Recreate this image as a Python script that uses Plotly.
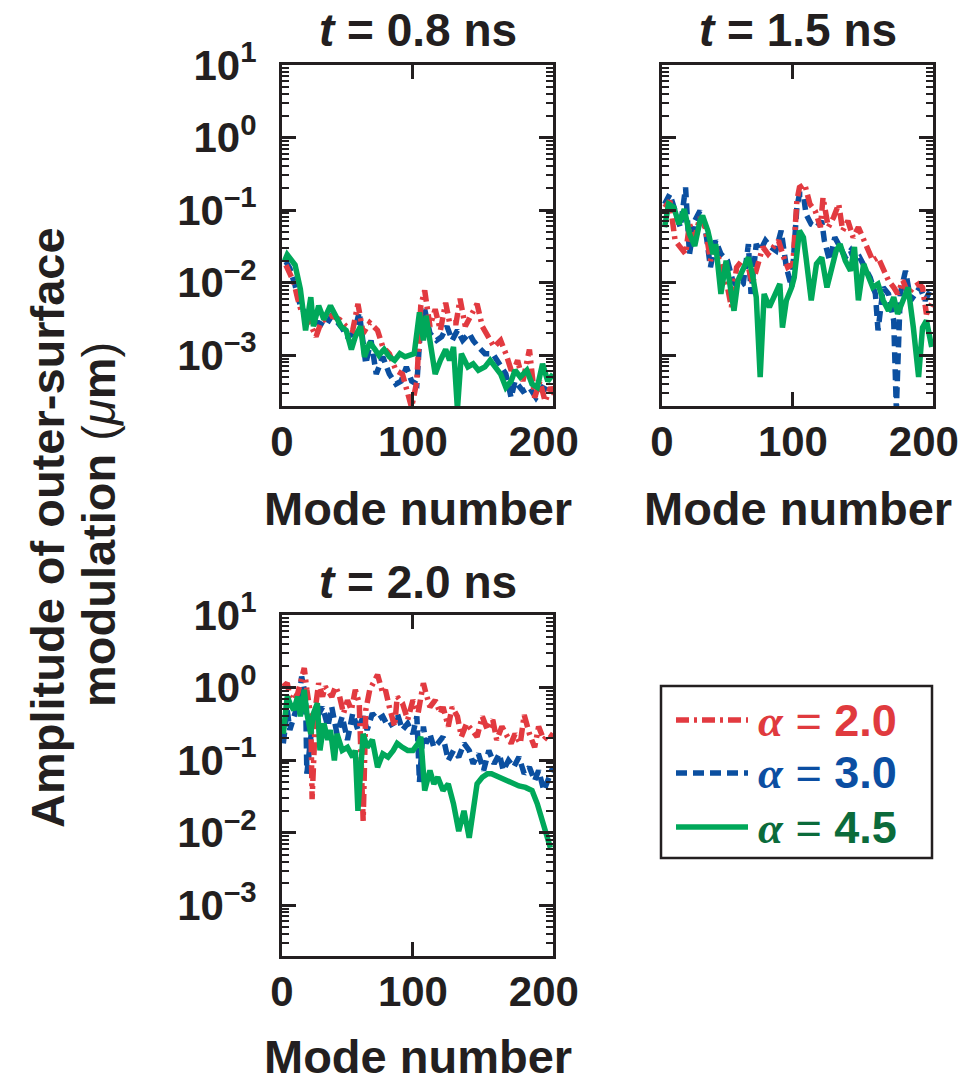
import plotly.graph_objects as go

# ---------------- data (mode number, amplitude in micrometres) ----------------
# t = 0.8 ns
m08_red = [3,5,9,12,15,20,26,30,33,38,44,49,54,58,62,67,73,77,82,87,92,96,99,103,106,
           109,113,117,121,125,128,133,136,140,144,149,153,157,162,167,171,176,180,184,189,
           193,197,201,205,208]
a08_red = [0.0175,0.0141,0.0102,0.0060,0.0039,0.0031,0.0018,0.0029,0.0031,0.0035,
           0.0031,0.0025,0.0022,0.0051,0.0020,0.0028,0.0022,0.0013,0.00105,0.00062,
           0.00055,0.00029,0.00019,0.00044,0.0048,0.0078,0.0025,0.0043,0.0022,0.0053,
           0.0028,0.0028,0.0060,0.0025,0.0035,0.0051,0.0025,0.0018,0.0013,0.0016,
           0.00105,0.00055,0.00085,0.00044,0.0012,0.00026,0.00044,0.00023,0.00036,0.00029]
m08_blue = [3,6,10,14,19,24,28,33,38,45,50,55,59,64,68,72,77,82,87,91,95,99,103,106,109,
            113,118,122,126,130,134,138,143,146,150,155,161,166,171,175,178,184,189,194,199,204]
a08_blue = [0.0195,0.0157,0.0092,0.0048,0.0035,0.0028,0.0028,0.0025,0.0035,0.0025,
            0.0018,0.0020,0.0039,0.00076,0.0016,0.00055,0.00095,0.00055,0.00040,0.00044,
            0.00069,0.00044,0.00040,0.0028,0.0043,0.0020,0.0016,0.0018,0.0025,0.0016,
            0.0022,0.0016,0.0020,0.0016,0.0013,0.00105,0.00105,0.00076,0.00055,0.00026,
            0.00044,0.00032,0.00036,0.00026,0.00036,0.00032]
m08_green = [2,4,10,14,18,22,24,28,32,37,41,45,49,53,56,60,63,67,71,74,78,82,86,90,94,
             97,101,105,108,110,113,117,121,125,128,131,134,137,142,146,150,155,159,163,167,
             171,175,178,182,187,191,195,199,203,207]
a08_green = [0.020,0.0243,0.0175,0.0082,0.0022,0.0063,0.0025,0.0048,0.0031,0.0048,
             0.0035,0.0025,0.0022,0.0012,0.0018,0.0025,0.00095,0.0015,0.0012,0.0010,
             0.0012,0.00095,0.00085,0.00105,0.00095,0.0010,0.00105,0.0039,0.0016,0.0035,
             0.0016,0.00055,0.00085,0.0012,0.00085,0.0013,0.00018,0.00105,0.00069,0.00076,
             0.00062,0.00069,0.00085,0.00069,0.00055,0.00036,0.00044,0.00062,0.00050,0.00062,
             0.00040,0.00036,0.00076,0.00044,0.00055]

# t = 1.5 ns
m15_red = [2,6,10,14,18,21,25,29,33,37,41,45,49,53,57,61,66,69,73,77,81,85,89,93,96,
           100,103,105,109,113,117,121,123,127,131,135,138,142,146,150,154,158,161,165,169,
           173,177,180,184,188,192,196,199,202,206]
a15_red = [0.109,0.134,0.038,0.031,0.0248,0.064,0.042,0.079,0.058,0.0201,
           0.031,0.0163,0.0107,0.0046,0.0163,0.0201,0.0163,0.0096,0.0163,0.031,
           0.0248,0.031,0.038,0.0223,0.0163,0.018,0.134,0.205,0.228,0.121,
           0.098,0.058,0.149,0.058,0.079,0.121,0.052,0.071,0.042,0.058,
           0.038,0.0248,0.0201,0.0223,0.0146,0.0107,0.0086,0.0070,0.0107,0.0070,
           0.0086,0.0096,0.0086,0.0037,0.0051]
m15_blue = [2,6,10,14,18,21,25,29,33,37,41,45,50,54,58,62,66,68,72,75,79,83,87,91,95,
            99,103,105,108,110,114,118,122,124,128,132,136,140,144,147,151,155,159,163,165,
            169,173,177,179,182,186,190,193,197,201,205]
a15_blue = [0.121,0.166,0.098,0.058,0.205,0.0248,0.071,0.098,0.058,0.0163,
            0.038,0.0248,0.0201,0.0107,0.0086,0.0096,0.034,0.0070,0.034,0.0275,
            0.038,0.031,0.0275,0.052,0.0163,0.0086,0.109,0.166,0.166,0.088,
            0.064,0.058,0.071,0.038,0.0201,0.042,0.031,0.0223,0.0275,0.0201,
            0.0223,0.0163,0.0118,0.0070,0.0022,0.0086,0.0070,0.0030,0.00018,0.0070,
            0.0146,0.0057,0.0070,0.0086,0.0057,0.0078]
m15_green = [2,5,9,13,17,21,25,29,31,35,39,41,45,49,53,55,58,62,66,69,72,75,78,82,86,
             90,92,95,99,101,105,108,110,114,118,122,126,130,133,136,140,144,147,150,154,
             158,161,165,169,173,177,180,184,188,192,196,199,202,206]
a15_green = [0.058,0.121,0.109,0.064,0.103,0.047,0.032,0.071,0.084,0.052,
             0.0248,0.034,0.0070,0.0201,0.0070,0.0041,0.0107,0.0163,0.0223,0.0132,
             0.0063,0.0005,0.0070,0.0046,0.0070,0.0096,0.0024,0.0057,0.0086,0.0118,
             0.052,0.042,0.0223,0.0057,0.0181,0.0223,0.0086,0.0181,0.0275,0.034,
             0.0201,0.0146,0.031,0.0057,0.0181,0.0118,0.0086,0.0096,0.0057,0.0041,
             0.0063,0.0037,0.0057,0.0086,0.0024,0.0005,0.0024,0.0030,0.0013]

# t = 2.0 ns
m20_red = [1,4,6,9,12,14,17,19,22,23,26,28,31,33,36,38,41,44,47,50,53,56,59,62,64,
           67,71,73,77,79,82,86,88,92,96,100,104,108,110,113,117,121,123,127,130,
           134,137,141,145,149,153,157,161,164,168,171,175,178,182,185,189,193,196,200,204,207]
a20_red = [1.03,1.15,0.75,0.67,0.83,1.15,1.86,0.93,0.40,0.029,
           0.61,1.15,0.75,1.03,0.83,0.75,1.03,0.75,0.44,0.67,
           0.49,0.93,0.61,0.0145,0.49,0.93,1.28,1.50,0.83,0.93,
           0.54,0.29,0.75,0.61,0.36,0.67,0.45,1.15,0.83,0.54,
           0.67,0.44,0.54,0.29,0.54,0.40,0.21,0.32,0.26,0.21,
           0.40,0.26,0.36,0.19,0.29,0.23,0.17,0.23,0.17,0.42,
           0.23,0.15,0.29,0.19,0.23,0.21]
m20_blue = [1,4,6,9,13,15,18,19,22,24,27,31,35,38,42,46,50,54,58,62,65,69,73,77,81,
            85,88,92,96,100,103,105,108,110,113,116,119,123,127,131,135,139,143,146,150,
            154,158,162,166,169,173,177,181,185,189,193,196,200,204,207]
a20_blue = [0.17,0.49,0.26,0.40,0.67,1.42,0.75,0.065,0.21,0.44,
            0.40,0.54,0.29,0.54,0.23,0.40,0.19,0.44,0.26,0.40,
            0.26,0.44,0.36,0.40,0.29,0.32,0.44,0.26,0.32,0.23,
            0.40,0.05,0.29,0.17,0.23,0.15,0.17,0.21,0.099,0.136,
            0.110,0.17,0.136,0.089,0.122,0.072,0.136,0.089,0.122,0.072,
            0.099,0.080,0.110,0.065,0.080,0.052,0.072,0.038,0.058,0.080]
m20_green = [1,4,6,9,12,14,17,19,22,24,27,29,32,35,37,40,42,46,50,54,56,58,62,65,69,
             73,77,81,85,88,92,96,100,104,106,109,113,116,119,123,127,131,135,139,143,
             146,149,153,157,160,166,171,176,181,186,191,195,199,203,205]
a20_green = [0.23,0.75,0.61,0.49,0.75,0.40,0.93,0.44,0.23,0.44,
             0.61,0.136,0.32,0.19,0.26,0.099,0.23,0.136,0.15,0.110,
             0.136,0.020,0.23,0.15,0.19,0.080,0.122,0.110,0.136,0.17,
             0.15,0.136,0.136,0.17,0.21,0.038,0.072,0.047,0.058,0.038,
             0.047,0.025,0.0105,0.020,0.0085,0.022,0.047,0.058,0.065,0.065,
             0.058,0.052,0.047,0.044,0.042,0.038,0.025,0.0145,0.0077,0.0062]

panel_titles = ["<b><i>t</i> = 0.8 ns</b>", "<b><i>t</i> = 1.5 ns</b>", "<b><i>t</i> = 2.0 ns</b>"]
alpha_labels = ["2.0", "3.0", "4.5"]
x_tickvals = [0, 100, 200]
x_ticktext = ["0", "100", "200"]
y_tickvals = [1e-3, 1e-2, 1e-1, 1, 10]
y_ticktext = ["10<sup>–3</sup>", "10<sup>–2</sup>", "10<sup>–1</sup>", "10<sup>0</sup>", "10<sup>1</sup>"]

# ---------------- styles ----------------
RED, BLUE, GREEN = "#e23a40", "#0b4fa0", "#00a85a"
TXT_RED, TXT_BLUE, TXT_GREEN = "#e03a3e", "#0b4ea2", "#0b6b3b"
DARK = "#231f20"
FONT = "Liberation Sans, Arial, Helvetica, sans-serif"
SERIF = "Liberation Serif, Times New Roman, serif"
RED_DASH = "13px,5px,3px,5px"
BLUE_DASH = "11px,6px"
LW = 5.5

W, H = 980, 1084
def px_x(v): return v / W
def px_y(v): return 1 - v / H

fig = go.Figure()

panels = [
    ("x", "y", m08_red, a08_red, m08_blue, a08_blue, m08_green, a08_green),
    ("x2", "y2", m15_red, a15_red, m15_blue, a15_blue, m15_green, a15_green),
    ("x3", "y3", m20_red, a20_red, m20_blue, a20_blue, m20_green, a20_green),
]
for xa, ya, mr, ar, mb, ab, mg, ag in panels:
    fig.add_trace(go.Scatter(x=mb, y=ab, mode="lines", xaxis=xa, yaxis=ya, showlegend=False,
                             line=dict(color=BLUE, width=LW, dash=BLUE_DASH)))
    fig.add_trace(go.Scatter(x=mr, y=ar, mode="lines", xaxis=xa, yaxis=ya, showlegend=False,
                             line=dict(color=RED, width=LW, dash=RED_DASH)))
    fig.add_trace(go.Scatter(x=mg, y=ag, mode="lines", xaxis=xa, yaxis=ya, showlegend=False,
                             line=dict(color=GREEN, width=LW)))

minor_y = [k * 10.0 ** e for e in range(-4, 1) for k in range(2, 10) if k * 10.0 ** e >= 2e-4]

def xaxis(domain, anchor):
    return dict(domain=domain, anchor=anchor, range=[0, 207], showgrid=False, zeroline=False,
                automargin=False,
                showline=True, linewidth=3, linecolor=DARK, mirror="ticks",
                tickmode="array", tickvals=x_tickvals, ticktext=x_ticktext, ticks="",
                tickfont=dict(family=FONT, size=42, color=DARK, weight="bold"),
                ticklabelstandoff=-3,
                minor=dict(tickmode="array", tickvals=[100], ticks="inside", ticklen=14,
                           tickwidth=3, tickcolor=DARK, showgrid=False))

def yaxis(domain, anchor, labels=True):
    return dict(domain=domain, anchor=anchor, type="log", range=[-3.7, 1], showgrid=False,
                zeroline=False, automargin=False,
                showline=True, linewidth=3, linecolor=DARK, mirror="ticks",
                tickmode="array", tickvals=y_tickvals, ticktext=y_ticktext,
                showticklabels=labels,
                ticks="inside", ticklen=14, tickwidth=3, tickcolor=DARK,
                tickfont=dict(family=FONT, size=42, color=DARK, weight="bold"),
                ticklabelstandoff=14,
                minor=dict(tickmode="array", tickvals=minor_y, ticks="inside", ticklen=7,
                           tickwidth=2, tickcolor=DARK, showgrid=False))

xd1 = [px_x(282), px_x(553)]
xd2 = [px_x(662), px_x(933)]
yd_top = [px_y(406), px_y(65)]
yd_bot = [px_y(956), px_y(615)]

fig.update_layout(
    template="none",
    width=W, height=H, margin=dict(l=0, r=0, t=0, b=0, pad=0),
    paper_bgcolor="white", plot_bgcolor="white", showlegend=False,
    font=dict(family=FONT, color=DARK),
    xaxis=xaxis(xd1, "y"), yaxis=yaxis(yd_top, "x"),
    xaxis2=xaxis(xd2, "y2"), yaxis2=yaxis(yd_top, "x2", labels=False),
    xaxis3=xaxis(xd1, "y3"), yaxis3=yaxis(yd_bot, "x3"),
)

ann = []
# panel titles
for text, xc, yc in [(panel_titles[0], (282 + 553) / 2, 30),
                     (panel_titles[1], (662 + 933) / 2, 30),
                     (panel_titles[2], (282 + 553) / 2, 582)]:
    ann.append(dict(text=text, x=px_x(xc), y=px_y(yc), xref="paper", yref="paper",
                    xanchor="center", yanchor="middle", showarrow=False,
                    font=dict(family=FONT, size=46, color=DARK)))
# x-axis titles
for xc, yc in [((282 + 553) / 2, 508), ((662 + 933) / 2, 508), ((282 + 553) / 2, 1056)]:
    ann.append(dict(text="<b>Mode number</b>", x=px_x(xc), y=px_y(yc), xref="paper", yref="paper",
                    xanchor="center", yanchor="middle", showarrow=False,
                    font=dict(family=FONT, size=47, color=DARK)))
# y-axis title (two lines)
ann.append(dict(text="<b>Amplitude of outer-surface</b>", x=px_x(47), y=px_y(528),
                xref="paper", yref="paper", xanchor="center", yanchor="middle",
                textangle=-90, showarrow=False, font=dict(family=FONT, size=47, color=DARK)))
ann.append(dict(text="<b>modulation </b>(<i>μ</i><b>m</b>)", x=px_x(98), y=px_y(525),
                xref="paper", yref="paper", xanchor="center", yanchor="middle",
                textangle=-90, showarrow=False, font=dict(family=FONT, size=47, color=DARK)))

# legend (drawn)
shapes = [dict(type="rect", xref="paper", yref="paper", x0=px_x(661), x1=px_x(932),
               y0=px_y(858), y1=px_y(686), line=dict(color=DARK, width=2.5), fillcolor="rgba(0,0,0,0)")]
leg_rows = [(720, RED, RED_DASH, TXT_RED, alpha_labels[0]),
            (773, BLUE, BLUE_DASH, TXT_BLUE, alpha_labels[1]),
            (827, GREEN, "solid", TXT_GREEN, alpha_labels[2])]
for yc, lc, dash, tc, lab in leg_rows:
    shapes.append(dict(type="line", xref="paper", yref="paper", x0=px_x(676), x1=px_x(748),
                       y0=px_y(yc), y1=px_y(yc), line=dict(color=lc, width=LW, dash=dash)))
    ann.append(dict(text=("<span style='font-family:" + SERIF + "'><b><i>α</i></b></span>"
                          " = <b>" + lab + "</b>"),
                    x=px_x(756), y=px_y(yc), xref="paper", yref="paper",
                    xanchor="left", yanchor="middle", showarrow=False,
                    font=dict(family=FONT, size=45, color=tc)))

fig.update_layout(annotations=ann, shapes=shapes)
fig.write_html("out.html")
